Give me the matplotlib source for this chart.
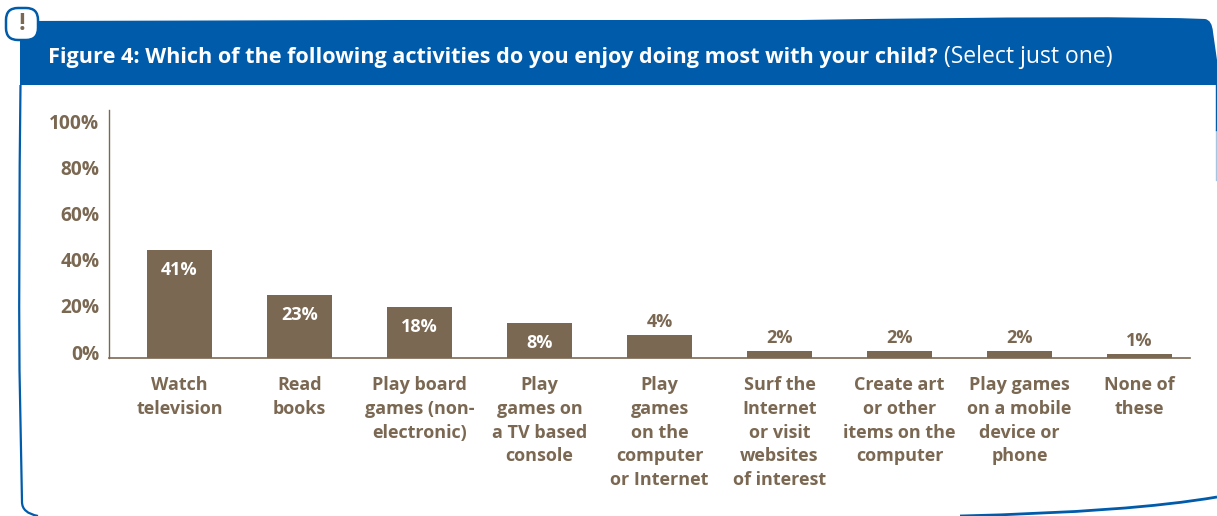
import matplotlib
matplotlib.use('Agg')
import matplotlib.pyplot as plt
from matplotlib.patches import PathPatch, FancyBboxPatch
from matplotlib.path import Path
from matplotlib.transforms import ScaledTranslation

W, H = 1217, 516
BLUE = '#005BAA'
BROWN = '#7B6852'

categories = ['Watch\ntelevision', 'Read\nbooks', 'Play board\ngames (non-\nelectronic)',
              'Play\ngames on\na TV based\nconsole', 'Play\ngames\non the\ncomputer\nor Internet',
              'Surf the\nInternet\nor visit\nwebsites\nof interest', 'Create art\nor other\nitems on the\ncomputer',
              'Play games\non a mobile\ndevice or\nphone', 'None of\nthese']
# bar heights as drawn in the picture, they run a bit above the printed labels
bar_values = [46.6, 27.1, 21.9, 14.9, 9.7, 2.7, 2.7, 2.7, 1.4]
bar_labels = ['41%', '23%', '18%', '8%', '4%', '2%', '2%', '2%', '1%']
y_ticks = [0, 20, 40, 60, 80, 100]

plt.rcParams['font.family'] = ['Open Sans', 'DejaVu Sans']
fig = plt.figure(figsize=(W / 100, H / 100), dpi=100, facecolor='white')

# frame and header, in pixel coordinates
bg = fig.add_axes([0, 0, 1, 1])
bg.set_xlim(0, W)
bg.set_ylim(H, 0)
bg.axis('off')

outline = Path([(20.5, 85), (18.5, 250), (19.5, 370), (22, 502), (22, 513), (38, 516)],
               [Path.MOVETO, Path.CURVE3, Path.CURVE3, Path.LINETO, Path.CURVE3, Path.CURVE3])
bg.add_patch(PathPatch(outline, fill=False, edgecolor=BLUE, lw=1.6))
bottom = Path([(960, 516), (1130, 512), (1217, 497)], [Path.MOVETO, Path.CURVE3, Path.CURVE3])
bg.add_patch(PathPatch(bottom, fill=False, edgecolor=BLUE, lw=2))

header = Path([(20, 85), (20, 21), (400, 20), (800, 20), (1120, 15), (1205, 19), (1212, 20), (1213, 32),
               (1217, 60), (1217, 85), (20, 85)],
              [Path.MOVETO, Path.LINETO, Path.LINETO, Path.LINETO, Path.CURVE3, Path.CURVE3,
               Path.CURVE3, Path.CURVE3, Path.LINETO, Path.LINETO, Path.CLOSEPOLY])
bg.add_patch(PathPatch(header, facecolor=BLUE, edgecolor='none'))
# right edge fades out under the header
bg.plot([1216, 1216], [85, 130], color=BLUE, lw=1)
bg.plot([1216, 1216], [130, 180], color=BLUE, lw=1, alpha=0.35)

bg.add_patch(FancyBboxPatch((6, 8), 32, 32, boxstyle='round,pad=0,rounding_size=12',
                            facecolor='white', edgecolor=BLUE, lw=1.8))
bg.text(22, 24, '!', color=BROWN, fontsize=17, fontweight='bold', ha='center', va='center')

title = bg.text(48, 57, 'Figure 4: Which of the following activities do you enjoy doing most with your child?',
                color='white', fontsize=15.55, fontweight='bold', va='center')
bg.annotate(' (Select just one)', xy=(1, 0.5), xycoords=title, color='white', fontsize=16.5, va='center')

# chart
ax = fig.add_axes([109 / W, 1 - 357.5 / H, 1081 / W, 247.5 / H])
ax.set_facecolor('none')
ax.set_xlim(-0.5875, 8.42)
ax.set_ylim(0, 107.6)
x = list(range(len(categories)))
ax.bar(x, bar_values, width=0.5417, color=BROWN)

for i, (v, lab) in enumerate(zip(bar_values, bar_labels)):
    if v > 14:
        ax.annotate(lab, (i, v), xytext=(0, -20), textcoords='offset pixels', ha='center', va='center',
                    color='white', fontsize=13, fontweight='bold')
    else:
        ax.annotate(lab, (i, v), xytext=(0, 13), textcoords='offset pixels', ha='center', va='center',
                    color=BROWN, fontsize=13, fontweight='bold')

ax.set_yticks(y_ticks)
ax.set_yticklabels([f'{t}%' for t in y_ticks], color=BROWN, fontsize=13.8, fontweight='bold')
ax.set_xticks(x)
ax.set_xticklabels(categories, color=BROWN, fontsize=13, fontweight='bold', linespacing=1.41)
ax.tick_params(axis='both', length=0)
ax.tick_params(axis='x', pad=13.5)
ax.tick_params(axis='y', pad=7)
# the tick labels sit a little above their gridline position
shift = ScaledTranslation(0, 5.5 / 100, fig.dpi_scale_trans)
for t in ax.get_yticklabels():
    t.set_transform(t.get_transform() + shift)
for s in ['top', 'right']:
    ax.spines[s].set_visible(False)
ax.spines['left'].set_color(BROWN)
ax.spines['bottom'].set_color(BROWN)
ax.spines['left'].set_linewidth(1)
ax.spines['bottom'].set_linewidth(1.2)

fig.savefig('out.png', dpi=100)
